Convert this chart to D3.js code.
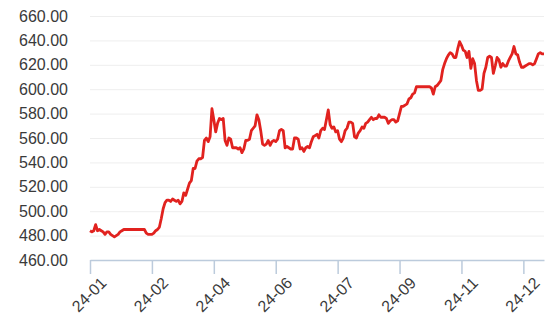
<!DOCTYPE html>
<html>
<head>
<meta charset="utf-8">
<script src="https://cdn.jsdelivr.net/npm/d3@7"></script>
<style>
  body { margin: 0; background: #fff; }
  text { font-family: "Liberation Sans", Arial, sans-serif; }
</style>
</head>
<body>
<div id="chart"></div>
<script>
// daily closing values (one per trading day)
let prices = [
  484,483,484,489,484,485,484,483,481,483,
  483,481,480,479,480,481,483,484,485,485,
  485,485,485,485,485,485,485,485,485,485,
  482,481,481,481,482,484,485,487,494,502,
  507,509,509,508,510,509,508,509,506,508,
  515,513,518,523,525,535,535,541,543,543,
  544,558,560,557,561,584,575,565,572,576,
  575,576,558,554,560,559,552,552,552,551,
  552,548,551,558,558,559,566,568,570,579,
  575,566,555,554,555,558,554,557,558,557,
  559,566,567,566,552,553,552,551,551,560,
  560,559,551,552,549,552,553,552,557,561,
  562,563,560,566,568,567,575,583,571,568,
  569,565,566,559,557,560,566,568,573,573,
  572,561,560,564,566,569,568,572,573,575,
  577,575,576,576,579,577,577,577,576,572,
  574,575,575,573,574,580,586,586,587,588,
  592,593,596,597,602,602,602,602,602,602,
  602,602,601,596,602,603,605,607,616,621,
  625,628,630,629,626,626,633,639,636,632,
  631,626,631,617,625,621,607,599,599,600,
  613,618,626,627,626,613,619,626,624,618,
  621,619,619,623,626,629,635,629,628,622,
  618,618,619,620,621,621,620,621,625,629,
  630,629,629
];

// x axis labels, one every 33 trading days
let tickLabels = ["24-01", "24-02", "24-04", "24-06", "24-07", "24-09", "24-11", "24-12"];
let labelInterval = 33;

// y axis ticks
let yTicks = [460, 480, 500, 520, 540, 560, 580, 600, 620, 640, 660];

let margin = {top: 16, right: 8, bottom: 74, left: 90},
    width = 552 - margin.left - margin.right,
    height = 334 - margin.top - margin.bottom;

let svg = d3.select("#chart")
    .append("svg")
    .attr("width", width + margin.left + margin.right)
    .attr("height", height + margin.top + margin.bottom)
    .append("g")
    .attr("transform", "translate(" + margin.left + "," + margin.top + ")");

// scales
let x = d3.scaleLinear()
    .domain([0, prices.length - 1])
    .range([0, width]);

let y = d3.scaleLinear()
    .domain([460, 660])
    .range([height, 0]);

// y gridlines
svg.append("g")
    .call(d3.axisLeft(y)
        .tickValues(yTicks)
        .tickSize(-width)
        .tickFormat(""))
    .call(g => g.select(".domain").remove())
    .call(g => g.selectAll("line").attr("stroke", "#eeeeee"));

// y labels
svg.append("g")
    .call(d3.axisLeft(y)
        .tickValues(yTicks)
        .tickSize(0)
        .tickPadding(22)
        .tickFormat(d3.format(".2f")))
    .call(g => g.select(".domain").remove())
    .call(g => g.selectAll("text")
        .attr("fill", "#3a3a3a")
        .style("font-size", "16px"));

// x axis
let xTickIdx = tickLabels.map((d, i) => i * labelInterval);

let xAxis = svg.append("g")
    .attr("transform", "translate(0," + height + ")")
    .call(d3.axisBottom(x)
        .tickValues(xTickIdx)
        .tickSizeInner(14)
        .tickSizeOuter(0)
        .tickFormat((d, i) => tickLabels[i]));

xAxis.select(".domain").attr("stroke", "#bccbdc").attr("stroke-width", 1.5);
xAxis.selectAll("line").attr("stroke", "#bccbdc").attr("stroke-width", 1.5);
xAxis.selectAll("text")
    .attr("fill", "#3a3a3a")
    .style("font-size", "16px")
    .attr("text-anchor", "end")
    .attr("dy", "0.35em")
    .attr("transform", "translate(1,8) rotate(-45)");

// price line
let line = d3.line()
    .x((d, i) => x(i))
    .y(d => y(d));

svg.append("path")
    .datum(prices)
    .attr("fill", "none")
    .attr("stroke", "#e1221f")
    .attr("stroke-width", 2.8)
    .attr("stroke-linejoin", "round")
    .attr("d", line);
</script>
</body>
</html>
